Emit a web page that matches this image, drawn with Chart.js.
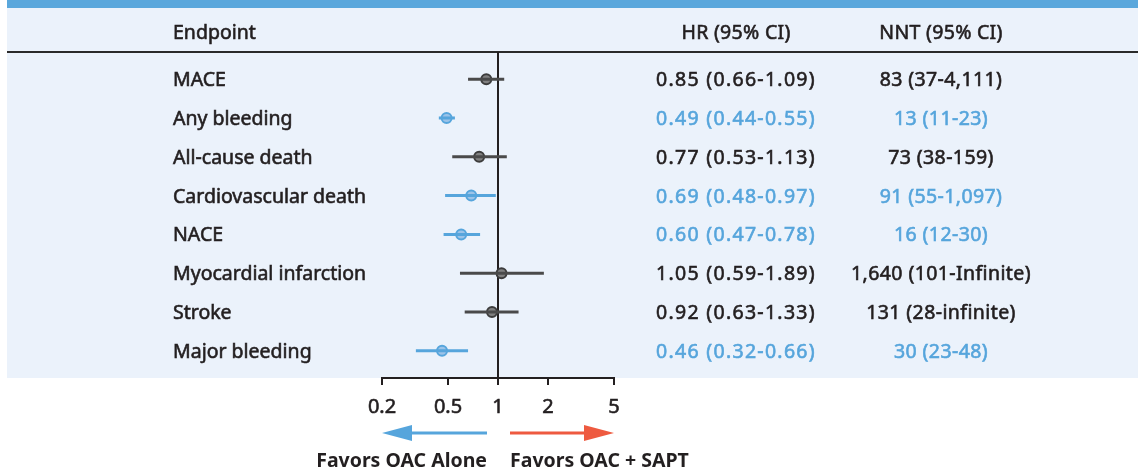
<!DOCTYPE html>
<html>
<head>
<meta charset="utf-8">
<script src="https://cdn.jsdelivr.net/npm/chart.js@4.4.0/dist/chart.umd.min.js"></script>
<style>
  body { margin: 0; background: #fff; }
  #wrap { width: 1138px; height: 469px; }
</style>
</head>
<body>
<div id="wrap"><canvas id="chart" width="1138" height="469"></canvas></div>
<script>
const endpoints = ['MACE', 'Any bleeding', 'All-cause death', 'Cardiovascular death', 'NACE',
  'Myocardial infarction', 'Stroke', 'Major bleeding'];
const hr = [0.85, 0.49, 0.77, 0.69, 0.60, 1.05, 0.92, 0.46];
const hrLow = [0.66, 0.44, 0.53, 0.48, 0.47, 0.59, 0.63, 0.32];
const hrHigh = [1.09, 0.55, 1.13, 0.97, 0.78, 1.89, 1.33, 0.66];
const nnt = ['83 (37-4,111)', '13 (11-23)', '73 (38-159)', '91 (55-1,097)', '16 (12-30)',
  '1,640 (101-Infinite)', '131 (28-infinite)', '30 (23-48)'];
const significant = [false, true, false, true, true, false, false, true];
const xTicks = [0.2, 0.5, 1, 2, 5];

const FONT = '"Noto Sans", "Open Sans", sans-serif';
const DARK = '#231f20';
const BLUE = '#56a5dc';
const BLUE_FILL = '#9cc3e8';
const GREY_LINE = '#4a4a4a';
const GREY_FILL = '#808080';
const RED = '#ee5a40';

function fmt(v) { return v.toFixed(2); }

// one whisker dataset per row, then the point estimates
const datasets = endpoints.map((name, i) => ({
  type: 'line',
  data: [{ x: hrLow[i], y: i }, { x: hrHigh[i], y: i }],
  borderColor: significant[i] ? BLUE : GREY_LINE,
  borderWidth: 3,
  pointRadius: 0,
  showLine: true
}));
datasets.push({
  type: 'scatter',
  data: hr.map((v, i) => ({ x: v, y: i })),
  pointRadius: 5,
  pointBorderWidth: 2,
  pointBackgroundColor: significant.map(s => s ? BLUE_FILL : GREY_FILL),
  pointBorderColor: significant.map(s => s ? BLUE : '#3c3c3c')
});

// slightly heavier text than the regular face
function label(ctx, text, x, y, spacing) {
  ctx.letterSpacing = (spacing || 0) + 'px';
  ctx.fillText(text, x, y);
  ctx.lineWidth = 0.6;
  ctx.strokeStyle = ctx.fillStyle;
  ctx.strokeText(text, x, y);
  ctx.letterSpacing = '0px';
}

const forestDecor = {
  id: 'forestDecor',
  beforeDraw(chart) {
    const ctx = chart.ctx;
    const area = chart.chartArea;
    ctx.save();
    ctx.fillStyle = '#fff';
    ctx.fillRect(0, 0, chart.width, chart.height);
    ctx.fillStyle = '#ebf2fb';
    ctx.fillRect(7, 0, chart.width - 7, area.bottom);
    ctx.fillStyle = '#5aa7dc';
    ctx.fillRect(7, 0, chart.width - 7, 8);
    ctx.fillStyle = '#2a2a2a';
    ctx.fillRect(7, 51, chart.width - 7, 2);
    ctx.restore();
  },
  beforeDatasetsDraw(chart) {
    const ctx = chart.ctx;
    const x = chart.scales.x.getPixelForValue(1);
    ctx.save();
    ctx.strokeStyle = DARK;
    ctx.lineWidth = 2;
    ctx.beginPath();
    ctx.moveTo(x, chart.chartArea.top);
    ctx.lineTo(x, chart.chartArea.bottom);
    ctx.stroke();
    ctx.restore();
  },
  afterDraw(chart) {
    const ctx = chart.ctx;
    const ys = chart.scales.y;
    const xs = chart.scales.x;
    ctx.save();
    ctx.textBaseline = 'middle';
    ctx.font = '19.5px ' + FONT;
    ctx.fillStyle = DARK;
    ctx.textAlign = 'left';
    label(ctx, 'Endpoint', 173, 33);
    ctx.textAlign = 'center';
    label(ctx, 'HR (95% CI)', 736, 33, 0.3);
    label(ctx, 'NNT (95% CI)', 941, 33, 0.3);
    endpoints.forEach((name, i) => {
      const y = ys.getPixelForValue(i) + 1.5;
      ctx.fillStyle = DARK;
      ctx.textAlign = 'left';
      label(ctx, name, 173, y);
      ctx.fillStyle = significant[i] ? BLUE : DARK;
      ctx.textAlign = 'center';
      label(ctx, fmt(hr[i]) + ' (' + fmt(hrLow[i]) + '-' + fmt(hrHigh[i]) + ')', 736, y, 1.3);
      label(ctx, nnt[i], 941, y, 0.4);
    });

    // x tick labels, drawn at the scale's own tick positions
    ctx.font = '20px ' + FONT;
    ctx.fillStyle = DARK;
    ctx.textAlign = 'center';
    xs.ticks.forEach(t => {
      label(ctx, String(t.value), xs.getPixelForValue(t.value), xs.top + 29);
    });

    // direction arrows
    const left = xs.getPixelForValue(0.2);
    const right = xs.getPixelForValue(5);
    const mid = xs.getPixelForValue(1);
    const ay = 433;
    function arrow(x0, x1, color) {
      const dir = x1 > x0 ? 1 : -1;
      ctx.strokeStyle = color;
      ctx.fillStyle = color;
      ctx.lineWidth = 3;
      ctx.beginPath();
      ctx.moveTo(x0, ay);
      ctx.lineTo(x1 - dir * 26, ay);
      ctx.stroke();
      ctx.beginPath();
      ctx.moveTo(x1, ay);
      ctx.lineTo(x1 - dir * 30, ay - 8);
      ctx.lineTo(x1 - dir * 30, ay + 8);
      ctx.closePath();
      ctx.fill();
    }
    arrow(mid - 11, left, BLUE);
    arrow(mid + 12, right, RED);

    ctx.font = 'bold 19.5px ' + FONT;
    ctx.fillStyle = DARK;
    ctx.textAlign = 'right';
    ctx.fillText('Favors OAC Alone', mid - 11, 461);
    ctx.textAlign = 'left';
    ctx.fillText('Favors OAC + SAPT', mid + 12, 461);
    ctx.restore();
  }
};

new Chart(document.getElementById('chart'), {
  data: { datasets: datasets },
  options: {
    responsive: false,
    animation: false,
    layout: { padding: { left: 382, right: 524, top: 52, bottom: 0 } },
    plugins: { legend: { display: false }, tooltip: { enabled: false } },
    scales: {
      x: {
        type: 'logarithmic',
        min: 0.2,
        max: 5,
        afterBuildTicks: scale => { scale.ticks = xTicks.map(v => ({ value: v })); },
        afterFit: scale => { scale.height = 91; },
        ticks: {
          autoSkip: false,
          maxRotation: 0,
          color: 'rgba(0,0,0,0)',
          padding: 11,
          font: { family: FONT, size: 20 },
          callback: v => String(v)
        },
        grid: { drawOnChartArea: false, drawTicks: true, tickLength: 7, color: DARK, lineWidth: 2 },
        border: { display: true, color: DARK, width: 2 }
      },
      y: {
        type: 'linear',
        display: false,
        reverse: true,
        min: -0.7,
        max: 7.7
      }
    }
  },
  plugins: [forestDecor]
});
</script>
</body>
</html>
